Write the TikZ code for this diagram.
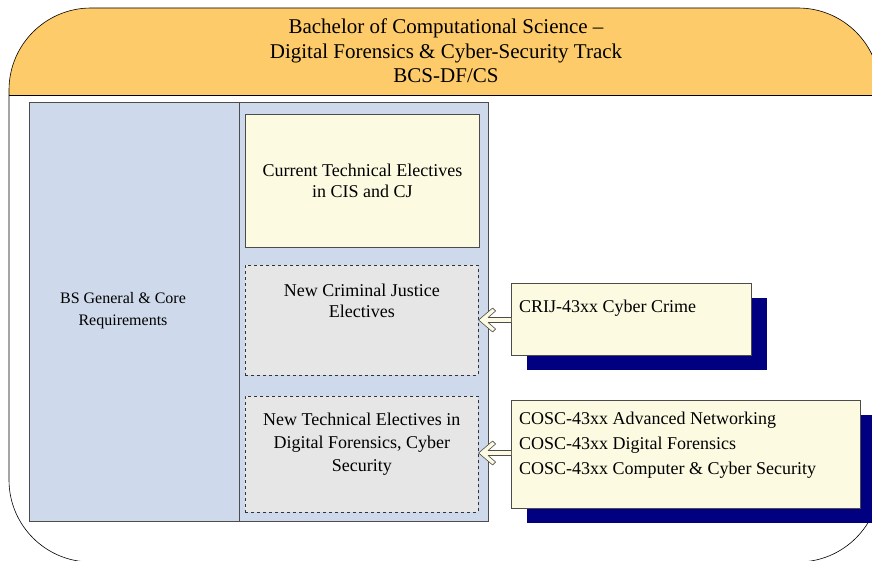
\documentclass[tikz,border=0pt]{standalone}
\usepackage{fontspec}
\setmainfont{Liberation Serif}
\usetikzlibrary{positioning,calc,shadows}

\definecolor{hdrorange}{RGB}{253,203,105}
\definecolor{panelblue}{RGB}{206,218,235}
\definecolor{creambox}{RGB}{252,251,226}
\definecolor{newgray}{RGB}{230,230,230}
\definecolor{shadownavy}{RGB}{0,0,128}

\tikzset{
  panel/.style={draw=black!70, fill=panelblue, line width=0.8pt, inner sep=0pt, anchor=north west},
  curbox/.style={draw=black!70, fill=creambox, line width=0.8pt, inner sep=0pt, anchor=north west},
  newbox/.style={draw=black!80, fill=newgray, dashed, line width=0.6pt, inner sep=0pt, anchor=north west},
  listbox/.style={draw=black!70, fill=creambox, line width=0.8pt, inner sep=0pt, anchor=north west,
    drop shadow={shadow xshift=16pt, shadow yshift=-15pt, fill=shadownavy, opacity=1}},
  boxtext/.style={font=\fontsize{18}{21}\selectfont, align=center, inner sep=0pt},
  listtext/.style={font=\fontsize{18}{25}\selectfont, align=left, inner sep=0pt, anchor=west},
  % outlined chevron arrow from the list box into the elective box
  hollow/.style={draw=black!70, fill=creambox, line width=0.6pt, line join=round,
    to path={($(\tikztostart)+(0,-2.5)$) -- ($(\tikztotarget)+(9.5,-2.5)$) -- ++(7.5,-6.5)
      -- ++(-3,-3) -- (\tikztotarget) -- ++(14,12) -- ++(3,-3) -- ++(-7.5,-6.5)
      -- ($(\tikztostart)+(0,2.5)$)}}
}

\begin{document}
\begin{tikzpicture}[x=1pt,y=-1pt]
  \useasboundingbox (0,0) rectangle (872,561);
  % outer rounded frame with the title band
  \begin{scope}
    \clip[rounded corners=82pt] (9,8) rectangle (880,562);
    \fill[hdrorange] (0,0) rectangle (890,95);
  \end{scope}
  \draw[line width=0.9pt] (9,95) -- (880,95);
  \draw[line width=0.6pt, rounded corners=82pt] (9,8) rectangle (880,562);
  \node[font=\fontsize{21}{24.5}\selectfont, align=center] (title) at (446,51)
    {Bachelor of Computational Science --\\Digital Forensics \& Cyber-Security Track\\BCS-DF/CS};

  % requirement panels
  \node[panel, minimum width=210pt, minimum height=419pt] (core) at (29,102) {};
  \node[panel, minimum width=249pt, minimum height=419pt] (elect) at (239,102) {};
  \node[boxtext, font=\fontsize{16}{22}\selectfont] (coretext) at (123,311) {BS General \& Core\\Requirements};

  % elective boxes
  \node[curbox, minimum width=234pt, minimum height=133pt] (current) at (245,114) {};
  \node[boxtext] (currenttext) at (current.center) {Current Technical Electives\\in CIS and CJ};
  \node[newbox, minimum width=233pt, minimum height=110pt] (newcj) at (245,265) {};
  \node[boxtext, yshift=-35.5pt] (newcjtext) at (newcj.north) {New Criminal Justice\\Electives};
  \node[newbox, minimum width=233pt, minimum height=116pt] (newtech) at (245,396) {};
  \node[boxtext, font=\fontsize{18}{23}\selectfont, yshift=-48pt] (newtechtext) at (newtech.north)
    {New Technical Electives in\\Digital Forensics, Cyber\\Security};

  % new course lists
  \node[listbox, minimum width=240pt, minimum height=72pt] (crij) at (511,283) {};
  \node[listtext] (crijtext) at (519,308) {CRIJ-43xx Cyber Crime};
  \node[listbox, minimum width=349pt, minimum height=108pt] (cosc) at (511,400) {};
  \node[listtext] (cosctext) at (519,445)
    {COSC-43xx Advanced Networking\\COSC-43xx Digital Forensics\\COSC-43xx Computer \& Cyber Security};

  % arrows into the elective boxes
  \draw[hollow] (crij.west |- 0,320) to (newcj.east |- 0,320);
  \draw[hollow] (cosc.west |- 0,453) to (newtech.east |- 0,453);
\end{tikzpicture}
\end{document}
